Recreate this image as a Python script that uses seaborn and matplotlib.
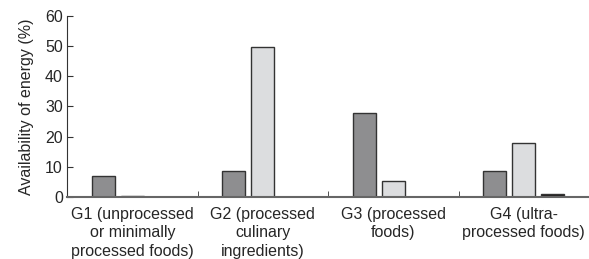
import pandas as pd
import numpy as np
import matplotlib
matplotlib.use('Agg')
import matplotlib.pyplot as plt
import seaborn as sns

sns.set_style('ticks')
plt.rcParams['font.family'] = ['Liberation Sans', 'DejaVu Sans']

groups = ['G1 (unprocessed\nor minimally\nprocessed foods)',
          'G2 (processed\nculinary\ningredients)',
          'G3 (processed\nfoods)',
          'G4 (ultra-\nprocessed foods)']
series = ['Series 1', 'Series 2', 'Series 3']
vals_s1 = [7.0, 8.5, 27.8, 8.7]
vals_s2 = [0.3, 49.6, 5.2, 18.0]
vals_s3 = [0.0, 0.0, 0.0, 1.1]
colors = ['#8e8e90', '#dcdddf', '#231f20']

rows = []
for s, v in zip(series, [vals_s1, vals_s2, vals_s3]):
    for g, x in zip(groups, v):
        rows.append({'group': g, 'series': s, 'value': x})
df = pd.DataFrame(rows)

fig = plt.figure(figsize=(5.89, 2.59), dpi=100)
ax = fig.add_axes([0.114, 0.239, 0.886, 0.70])

sns.barplot(data=df, x='group', y='value', hue='series', palette=colors,
            width=0.667, gap=0.21, edgecolor='#333333', linewidth=1,
            legend=False, ax=ax)

ax.set_xlim(-0.5, 3.5)
ax.set_ylim(0, 60)
ax.set_yticks(range(0, 61, 10))
ax.set_xlabel('')
ax.set_ylabel('Availability of energy (%)', fontsize=11.5, labelpad=8)
ax.tick_params(axis='y', direction='in', length=4, labelsize=11.5, color='#333333', pad=3)
ax.tick_params(axis='x', which='major', length=0, labelsize=11.5, pad=7)
ax.set_xticks([0.5, 1.5, 2.5, 3.5], minor=True)
ax.tick_params(axis='x', which='minor', direction='in', length=4, color='#333333')
for lab in ax.get_xticklabels():
    lab.set_linespacing(1.28)

sns.despine(ax=ax)
ax.spines['left'].set_color('#333333')
ax.spines['bottom'].set_color('#666666')
ax.spines['bottom'].set_linewidth(1.5)

plt.savefig('out.png', dpi=100)
